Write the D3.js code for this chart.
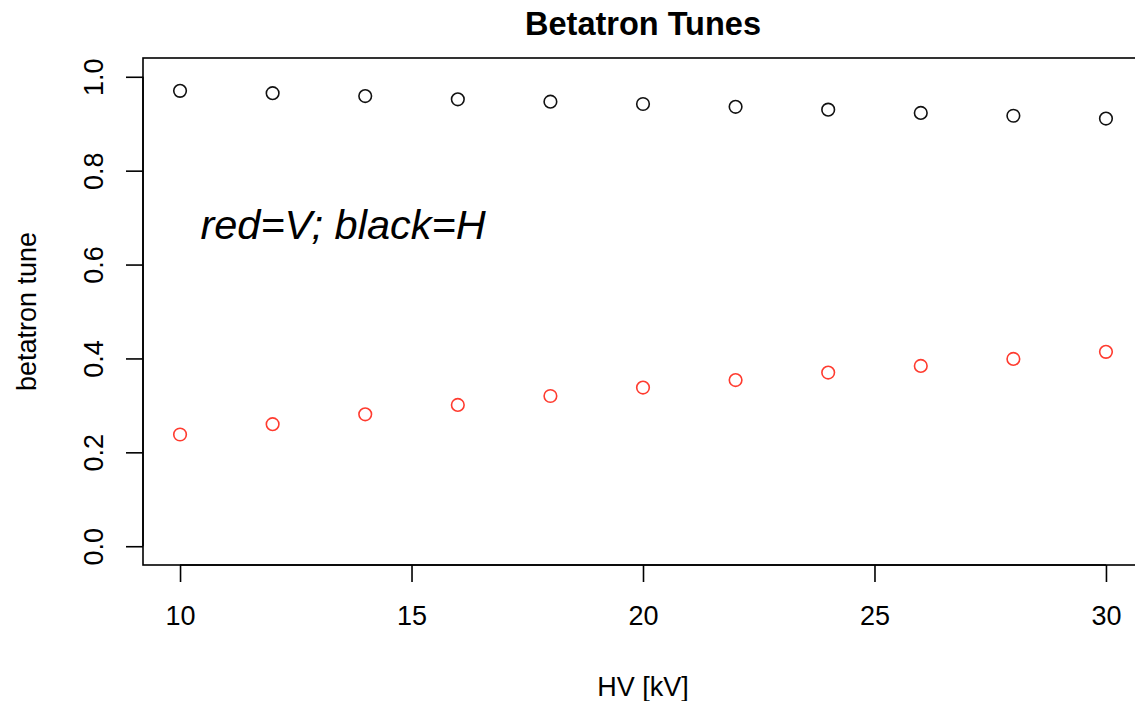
<!DOCTYPE html>
<html>
<head>
<meta charset="utf-8">
<script src="https://cdn.jsdelivr.net/npm/d3@7"></script>
<style>
  html, body { margin: 0; padding: 0; background: #fff; }
  svg { display: block; font-family: "Liberation Sans", Arial, Helvetica, sans-serif; }
</style>
</head>
<body>
<svg id="chart" width="1135" height="701"></svg>
<script>
// High voltage settings [kV]
const hv = [10, 12, 14, 16, 18, 20, 22, 24, 26, 28, 30];
// Horizontal tune (black)
const tuneH = [0.970, 0.965, 0.959, 0.952, 0.947, 0.942, 0.936, 0.930, 0.923, 0.917, 0.911];
// Vertical tune (red)
const tuneV = [0.238, 0.260, 0.281, 0.301, 0.320, 0.338, 0.354, 0.370, 0.384, 0.399, 0.414];
const xTicks = [10, 15, 20, 25, 30];
const yTicks = [0.0, 0.2, 0.4, 0.6, 0.8, 1.0];

const svg = d3.select("#chart");
const plotL = 143, plotR = 1143, plotT = 58, plotB = 565;
const labelSize = 27;

// R-style 4% padding around the data / limits
const xPad = (30 - 10) * 0.04, yPad = (1 - 0) * 0.04;
const x = d3.scaleLinear().domain([10 - xPad, 30 + xPad]).range([plotL, plotR]);
const y = d3.scaleLinear().domain([0 - yPad, 1 + yPad]).range([plotB, plotT]);

// plot frame
svg.append("rect")
  .attr("x", plotL).attr("y", plotT)
  .attr("width", plotR - plotL).attr("height", plotB - plotT)
  .attr("fill", "none").attr("stroke", "#000").attr("stroke-width", 1.6);

// x axis
const xAxis = svg.append("g")
  .attr("transform", `translate(0,${plotB})`)
  .call(d3.axisBottom(x).tickValues(xTicks).tickSize(17).tickPadding(24).tickFormat(d3.format("d")));
xAxis.select(".domain").attr("d", `M${x(10)},0H${x(30)}`).attr("stroke-width", 1.6);
xAxis.selectAll(".tick line").attr("stroke-width", 1.6);
xAxis.selectAll(".tick text").attr("font-size", labelSize).attr("fill", "#000")
  .attr("font-family", "Liberation Sans, Arial, sans-serif");

// y axis (labels rotated, parallel to the axis)
const yAxis = svg.append("g")
  .attr("transform", `translate(${plotL},0)`)
  .call(d3.axisLeft(y).tickValues(yTicks).tickSize(17).tickFormat(d3.format(".1f")));
yAxis.select(".domain").attr("d", `M0,${y(0)}V${y(1)}`).attr("stroke-width", 1.6);
yAxis.selectAll(".tick line").attr("stroke-width", 1.6);
yAxis.selectAll(".tick text")
  .attr("x", null).attr("dy", null)
  .attr("transform", "translate(-40,0) rotate(-90)")
  .attr("text-anchor", "middle")
  .attr("font-size", labelSize).attr("fill", "#000")
  .attr("font-family", "Liberation Sans, Arial, sans-serif");

// points
svg.append("g").selectAll("circle")
  .data(hv.map((v, i) => [v, tuneH[i]]))
  .join("circle")
  .attr("cx", d => x(d[0])).attr("cy", d => y(d[1])).attr("r", 6.3)
  .attr("fill", "none").attr("stroke", "#111").attr("stroke-width", 1.6);

svg.append("g").selectAll("circle")
  .data(hv.map((v, i) => [v, tuneV[i]]))
  .join("circle")
  .attr("cx", d => x(d[0])).attr("cy", d => y(d[1])).attr("r", 6.3)
  .attr("fill", "none").attr("stroke", "#ff3b2f").attr("stroke-width", 1.6);

// titles
svg.append("text")
  .attr("x", (plotL + plotR) / 2).attr("y", 34.5)
  .attr("text-anchor", "middle").attr("font-size", 32.5).attr("font-weight", "bold")
  .text("Betatron Tunes");

svg.append("text")
  .attr("x", (plotL + plotR) / 2).attr("y", 696)
  .attr("text-anchor", "middle").attr("font-size", labelSize)
  .text("HV [kV]");

svg.append("text")
  .attr("transform", `translate(36,${(plotT + plotB) / 2}) rotate(-90)`)
  .attr("text-anchor", "middle").attr("font-size", labelSize)
  .text("betatron tune");

// annotation
svg.append("text")
  .attr("x", x(10.44)).attr("y", y(0.655))
  .attr("font-size", 41.5).attr("font-style", "italic")
  .text("red=V; black=H");
</script>
</body>
</html>
